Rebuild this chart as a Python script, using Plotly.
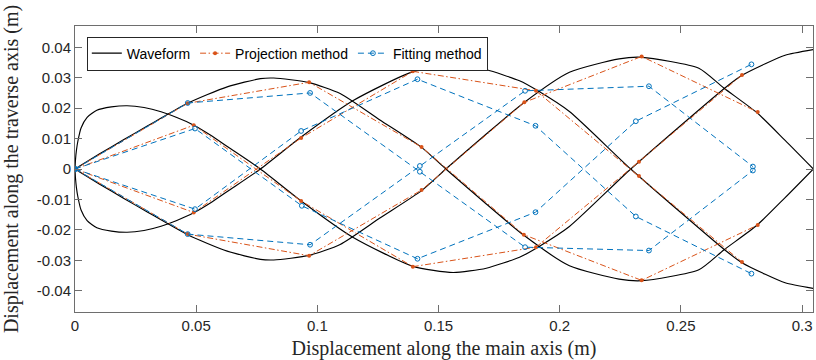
import plotly.graph_objects as go

# ---------------- data ----------------
# Waveform curve A (starts vertically upward) and its mirror A2
wave_a_x = [0, 0.0002, 0.0006, 0.0012, 0.0025, 0.005, 0.009, 0.015, 0.0215, 0.0285, 0.0355, 0.042,
            0.049, 0.056, 0.063, 0.0765, 0.0933, 0.1148, 0.1395, 0.156, 0.1697, 0.1834,
            0.191, 0.204, 0.2293, 0.2684, 0.2752, 0.2848, 0.293, 0.305]
wave_a_y = [0, 0.003, 0.0062, 0.0092, 0.0135, 0.017, 0.0193, 0.0204, 0.0208, 0.0202, 0.0188, 0.0169,
            0.0144, 0.0111, 0.0073, 0.0, -0.0105, -0.0225, -0.032, -0.034, -0.0326, -0.029,
            -0.0257, -0.0189, 0.0, 0.0268, 0.0308, 0.0346, 0.0374, 0.0393]
wave_a2_y = [0, -0.003, -0.0062, -0.0092, -0.0135, -0.017, -0.0193, -0.0204, -0.0208, -0.0202, -0.0188, -0.0169,
             -0.0144, -0.0111, -0.0073, 0.0, 0.0105, 0.0225, 0.032, 0.034, 0.0326, 0.029,
             0.0257, 0.0189, 0.0, -0.0268, -0.0308, -0.0346, -0.0374, -0.0393]
# Waveform curve B (starts linearly) and its mirror B2
wave_b_x = [0, 0.01, 0.02, 0.03, 0.0465, 0.0628, 0.0765, 0.082, 0.0966, 0.1094, 0.1258, 0.143,
            0.153, 0.1697, 0.1852, 0.204, 0.2245, 0.234, 0.2574, 0.2677, 0.2815, 0.293, 0.305]
wave_b_y = [0, 0.0049, 0.0096, 0.0142, 0.0216, 0.027, 0.0297, 0.0299, 0.0284, 0.0248, 0.0161, 0.0071,
            0.0, -0.0115, -0.0218, -0.0318, -0.0362, -0.0367, -0.0331, -0.0266, -0.0184, -0.0094, 0.0003]
wave_b2_y = [0, -0.0049, -0.0096, -0.0142, -0.0216, -0.027, -0.0297, -0.0299, -0.0284, -0.0248, -0.0161, -0.0071,
             0.0, 0.0115, 0.0218, 0.0318, 0.0362, 0.0367, 0.0331, 0.0266, 0.0184, 0.0094, -0.0003]

# Projection method (4 polylines)
proj_a_x = [0, 0.049, 0.0933, 0.1394, 0.1902, 0.2327, 0.2752]
proj_a_y = [0, 0.0144, -0.0105, -0.0321, -0.0257, 0.0024, 0.0309]
proj_a2_x = [0, 0.049, 0.0933, 0.1394, 0.1902, 0.2327, 0.2752]
proj_a2_y = [0, -0.0143, 0.0102, 0.0321, 0.0257, -0.0023, -0.0306]
proj_b_x = [0, 0.0465, 0.0966, 0.143, 0.1852, 0.2338, 0.2817]
proj_b_y = [0, 0.0216, 0.0285, 0.0072, -0.0216, -0.0366, -0.0184]
proj_b2_x = [0, 0.0465, 0.0966, 0.143, 0.1854, 0.2338, 0.2817]
proj_b2_y = [0, -0.0214, -0.0285, -0.0069, 0.0219, 0.037, 0.0187]

# Fitting method (4 polylines)
fit_a_x = [0, 0.0495, 0.0936, 0.1413, 0.190, 0.2314, 0.2791]
fit_a_y = [0, 0.0133, -0.0121, -0.0295, -0.0142, 0.0157, 0.0344]
fit_a2_x = [0, 0.0495, 0.0933, 0.1413, 0.190, 0.2314, 0.2791]
fit_a2_y = [0, -0.0132, 0.0125, 0.0295, 0.0142, -0.0156, -0.0344]
fit_b_x = [0, 0.0465, 0.097, 0.1423, 0.1857, 0.2368, 0.2797]
fit_b_y = [0, 0.0217, 0.025, -0.0009, -0.0257, -0.0268, -0.0005]
fit_b2_x = [0, 0.0465, 0.097, 0.1423, 0.1857, 0.2368, 0.2797]
fit_b2_y = [0, -0.0214, -0.0249, 0.001, 0.0257, 0.0272, 0.0008]

x_tick_vals = [0, 0.05, 0.1, 0.15, 0.2, 0.25, 0.3]
x_tick_text = ["0", "0.05", "0.1", "0.15", "0.2", "0.25", "0.3"]
y_tick_vals = [-0.04, -0.03, -0.02, -0.01, 0, 0.01, 0.02, 0.03, 0.04]
y_tick_text = ["-0.04", "-0.03", "-0.02", "-0.01", "0", "0.01", "0.02", "0.03", "0.04"]

# ---------------- styling ----------------
BLACK = "#000000"
ORANGE = "#D95319"
BLUE = "#0072BD"
AXIS = "#6e6e6e"
SANS = "Liberation Sans, Arial, sans-serif"
SERIF = "Liberation Serif, Times New Roman, serif"

fig = go.Figure()

waves = [(wave_a_x, wave_a_y), (wave_a_x, wave_a2_y), (wave_b_x, wave_b_y), (wave_b_x, wave_b2_y)]
for i, (xs, ys) in enumerate(waves):
    fig.add_trace(go.Scatter(x=xs, y=ys, mode="lines", name="Waveform",
                             line=dict(color=BLACK, width=1.15, shape="spline", smoothing=0.6),
                             legendgroup="w", showlegend=(i == 0)))

projs = [(proj_a_x, proj_a_y), (proj_a2_x, proj_a2_y), (proj_b_x, proj_b_y), (proj_b2_x, proj_b2_y)]
for i, (xs, ys) in enumerate(projs):
    fig.add_trace(go.Scatter(x=xs, y=ys, mode="lines+markers", name="Projection method",
                             line=dict(color=ORANGE, width=1, dash="6px,2.5px,1.5px,2.5px"),
                             marker=dict(color=ORANGE, size=4, symbol="circle"),
                             legendgroup="p", showlegend=(i == 0)))

fits = [(fit_a_x, fit_a_y), (fit_a2_x, fit_a2_y), (fit_b_x, fit_b_y), (fit_b2_x, fit_b2_y)]
for i, (xs, ys) in enumerate(fits):
    fig.add_trace(go.Scatter(x=xs, y=ys, mode="lines+markers", name="Fitting method",
                             line=dict(color=BLUE, width=1, dash="6px,4px"),
                             marker=dict(color=BLUE, size=4.8, symbol="circle-open",
                                         line=dict(color=BLUE, width=1)),
                             legendgroup="f", showlegend=(i == 0)))

axis_common = dict(showline=True, linecolor=AXIS, linewidth=1, mirror="allticks",
                   ticks="inside", ticklen=7, tickcolor=AXIS, tickwidth=1,
                   showgrid=False, zeroline=False, automargin=False,
                   tickfont=dict(family=SANS, size=15, color="#262626"))

fig.update_xaxes(range=[0, 0.3045], tickvals=x_tick_vals, ticktext=x_tick_text,
                 title=dict(text="Displacement along the main axis (m)",
                            font=dict(family=SERIF, size=20, color="#262626")),
                 **axis_common)
fig.update_yaxes(range=[-0.047, 0.047], tickvals=y_tick_vals, ticktext=y_tick_text,
                 title=dict(text="Displacement along the traverse axis (m)",
                            font=dict(family=SERIF, size=20, color="#262626")),
                 **axis_common)

fig.update_layout(
    width=816, height=360,
    margin=dict(l=75, r=3, t=26, b=48),
    plot_bgcolor="white", paper_bgcolor="white",
    legend=dict(orientation="h", x=0.016, y=0.963, xanchor="left", yanchor="top",
                bgcolor="white", bordercolor="#262626", borderwidth=1,
                font=dict(family=SANS, size=14, color="#000000"),
                tracegroupgap=0, itemwidth=30),
)

fig.write_html("out.html", config={"displayModeBar": False},
               post_script="document.body.style.margin='0px';")
